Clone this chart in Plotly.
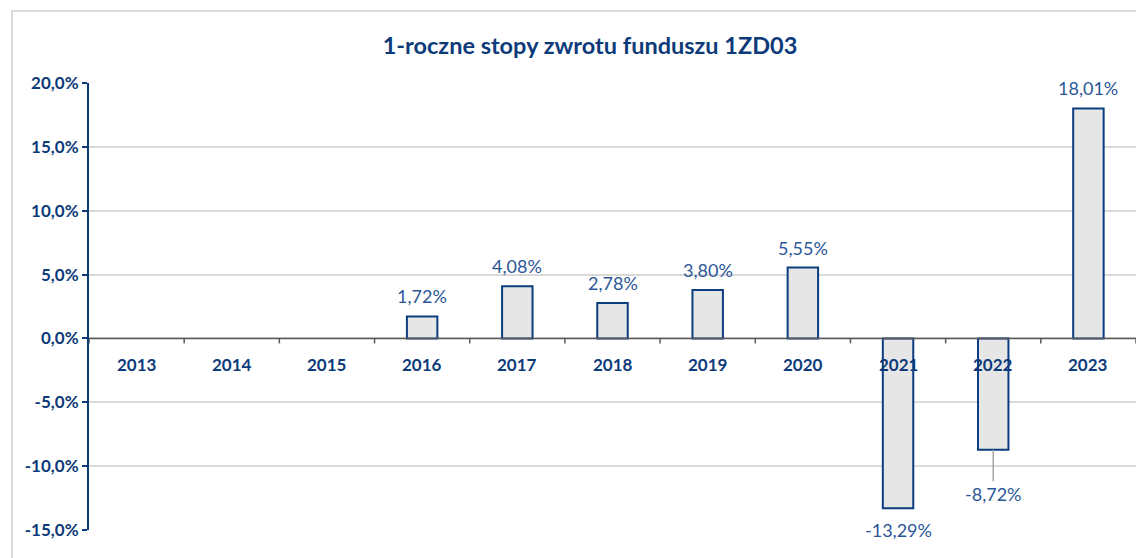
import plotly.graph_objects as go

years = ["2013", "2014", "2015", "2016", "2017", "2018", "2019", "2020", "2021", "2022", "2023"]
returns = [None, None, None, 1.72, 4.08, 2.78, 3.80, 5.55, -13.29, -8.72, 18.01]
y_ticks = [-15, -10, -5, 0, 5, 10, 15, 20]
title_text = "1-roczne stopy zwrotu funduszu 1ZD03"

DARK = "#0d3b7a"
LABEL = "#2b5797"
FONT = "Lato"

W, H = 1136, 550  # page adds an 8px body margin

pos = list(range(len(years)))
y_ticktext = [f"{t:.1f}".replace(".", ",") + "%" for t in y_ticks]

fig = go.Figure()
fig.add_trace(go.Bar(
    x=pos, y=returns,
    marker=dict(color="#e6e6e6", line=dict(color="#0b3d80", width=2)),
    width=0.32, hoverinfo="skip",
))

annotations = []
for i, (yr, v) in enumerate(zip(years, returns)):
    annotations.append(dict(x=i, y=0, text="<b>" + yr + "</b>", showarrow=False,
                            yshift=-26, yanchor="middle",
                            font=dict(family=FONT, size=17, color=DARK)))
    if v is None:
        continue
    txt = f"{v:.2f}".replace(".", ",") + "%"
    if yr == "2022":
        annotations.append(dict(x=i, y=v, text=txt, showarrow=True, arrowhead=0,
                                arrowwidth=1.5, arrowcolor="#a6a6a6", ax=0, ay=44,
                                font=dict(family=FONT, size=18, color=LABEL)))
    else:
        annotations.append(dict(x=i, y=v, text=txt, showarrow=False,
                                yshift=20 if v >= 0 else -22, yanchor="middle",
                                font=dict(family=FONT, size=18, color=LABEL)))

shapes = [dict(type="rect", xref="paper", yref="paper",
               x0=(12 - 89) / 1047, x1=1.05, y0=-0.2, y1=(530 - 11) / 447,
               line=dict(color="#d9d9d9", width=2), layer="below")]
shapes.append(dict(type="line", xref="paper", yref="y", x0=0, x1=1, y0=0, y1=0,
                   line=dict(color="#595959", width=1.5), layer="above"))
for i in range(len(years) + 1):
    shapes.append(dict(type="line", xref="x", yref="y", ysizemode="pixel", yanchor=0,
                       x0=i - 0.5, x1=i - 0.5, y0=0, y1=-5,
                       line=dict(color="#595959", width=1.5), layer="above"))

fig.update_layout(
    width=W, height=H,
    margin=dict(l=81, r=8, t=75, b=28),
    paper_bgcolor="white", plot_bgcolor="white",
    showlegend=False,
    title=dict(text="<b>" + title_text + "</b>", x=582 / W, xanchor="center",
               y=1 - 38 / H, yanchor="middle", yref="container",
               font=dict(family=FONT, size=23.5, color=DARK)),
    annotations=annotations,
    shapes=shapes,
)
fig.update_xaxes(
    range=[-0.5, len(years) - 0.5], showticklabels=False, ticks="",
    showline=False, showgrid=False, zeroline=False,
)
fig.update_yaxes(
    range=[-15, 20], tickmode="array", tickvals=y_ticks, ticktext=y_ticktext,
    showline=True, linecolor=DARK, linewidth=2,
    ticks="outside", ticklen=5, tickcolor=DARK, tickwidth=2,
    tickfont=dict(family=FONT, size=17, color=DARK, weight="bold"),
    showgrid=True, gridcolor="#d9d9d9", gridwidth=1.5, zeroline=False,
)

fig.write_html("out.html")
